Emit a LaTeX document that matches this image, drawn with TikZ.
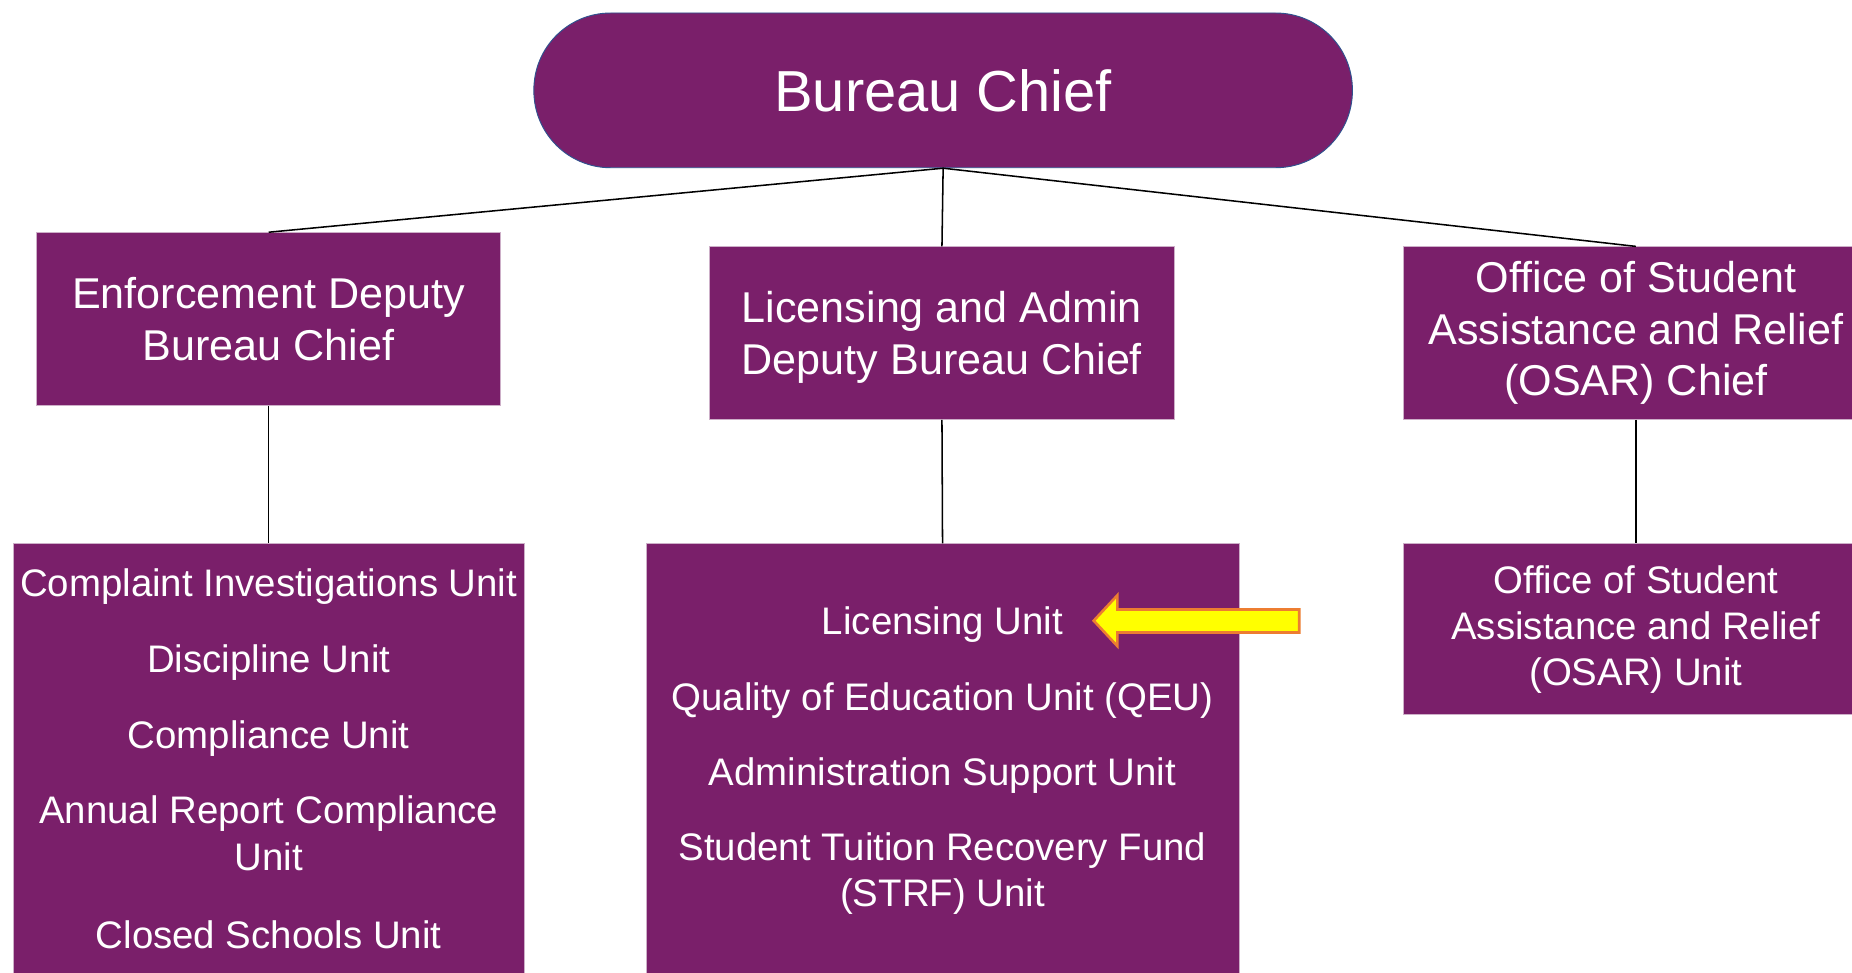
\documentclass[tikz,border=0pt]{standalone}
\usepackage{fontspec}
\setmainfont{Liberation Sans}
\definecolor{bpurple}{RGB}{122,31,106}
\definecolor{pillborder}{RGB}{47,82,143}
\definecolor{boxedge}{RGB}{205,175,200}
\definecolor{arrowfill}{RGB}{255,255,0}
\definecolor{arroworange}{RGB}{237,125,49}
\begin{document}
\begin{tikzpicture}[x=1pt,y=-1pt,
  box/.style={draw=boxedge, line width=0.8pt, fill=bpurple, text=white, inner sep=0pt, align=center},
  hdr/.style={font=\fontsize{36.5}{43.8}\selectfont},
  item/.style={text=white, align=center, inner sep=0pt, font=\fontsize{32.5}{39}\selectfont},
  link/.style={draw=black, line width=1.3pt},
  pointer/.style={draw=arroworange, fill=arrowfill, line width=2.2pt, line join=miter}]
\clip (0,0) rectangle (1568,823);
\fill[white] (0,0) rectangle (1568,823);
% top
\node[box, rounded corners=65pt, draw=pillborder, minimum width=693pt, minimum height=131pt,
      font=\fontsize{49}{59}\selectfont] (chief) at (798.5,76.5) {Bureau Chief};
% second level
\node[box, hdr, minimum width=393pt, minimum height=146pt] (enf) at (227.5,270) {Enforcement Deputy\\Bureau Chief};
\node[box, hdr, minimum width=393pt, minimum height=146pt, text depth=0pt] (lic) at (797.5,282) {Licensing and Admin\\Deputy Bureau Chief};
\node[box, hdr, minimum width=394pt, minimum height=146pt] (osar) at (1385,282) {\raisebox{-2pt}{\parbox{394pt}{\centering Office of Student\\Assistance and Relief\\(OSAR) Chief}}};
% unit boxes
\node[box, minimum width=433pt, minimum height=380pt, anchor=north] (enfu) at (227.5,460) {};
\node[box, minimum width=502pt, minimum height=380pt, anchor=north] (licu) at (798,460) {};
\node[box, minimum width=394pt, minimum height=145pt] (osaru) at (1385,532.5) {};
\node[item] (o1) at (1385,533) {Office of Student\\Assistance and Relief\\(OSAR) Unit};
% items left
\node[item] (e1) at (227.5,497) {Complaint Investigations Unit};
\node[item] (e2) at (227.5,561) {Discipline Unit};
\node[item] (e3) at (227.5,625) {Compliance Unit};
\node[item] (e4) at (227.5,705.5) {Annual Report Compliance\\Unit};
\node[item] (e5) at (227.5,791) {Closed Schools Unit};
% items middle
\node[item] (l1) at (798,529) {Licensing Unit};
\node[item] (l2) at (798,593) {Quality of Education Unit (QEU)};
\node[item] (l3) at (798,657) {Administration Support Unit};
\node[item] (l4) at (798,739.5) {Student Tuition Recovery Fund\\(STRF) Unit};
% connectors
\draw[link] (chief.south) -- (enf.north);
\draw[link] (chief.south) -- (lic.north);
\draw[link] (chief.south) -- (osar.north);
\draw[link] (enf.south) -- (enfu.north);
\draw[link] (lic.south) -- (licu.north);
\draw[link] (osar.south) -- (osaru.north);
% highlight arrow
\draw[pointer] (1100,516) -- (946,516) -- (946,504) -- (926,525.5) -- (946,547) -- (946,535.5) -- (1100,535.5) -- cycle;
\end{tikzpicture}
\end{document}
